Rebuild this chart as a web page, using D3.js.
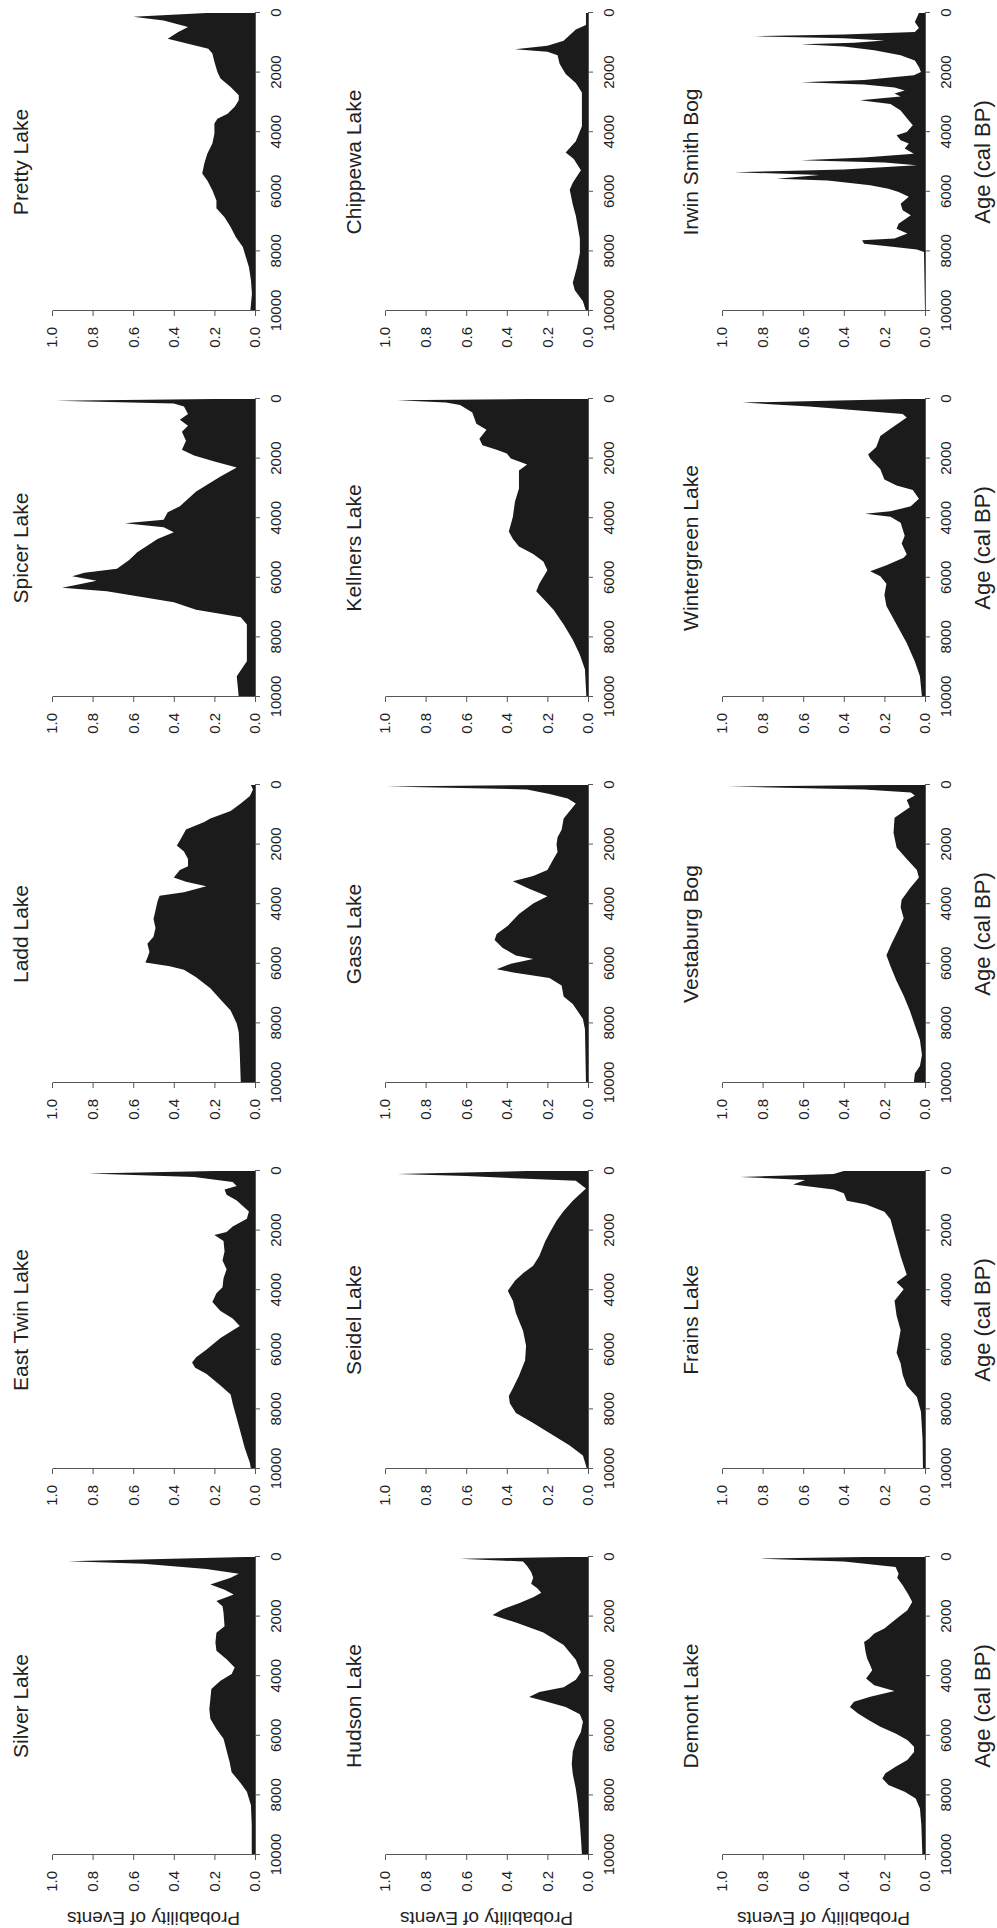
<!DOCTYPE html>
<html>
<head>
<meta charset="utf-8">
<script src="https://cdn.jsdelivr.net/npm/d3@7"></script>
<style>
  body { margin: 0; background: #fff; }
  svg { display: block; font-family: "Liberation Sans", Arial, sans-serif; }
</style>
</head>
<body>
<div id="chart"></div>
<script>
// panel grid of the landscape figure (rows top to bottom, columns left to right)
var lakeRows = [
  ["Silver Lake", "East Twin Lake", "Ladd Lake", "Spicer Lake", "Pretty Lake"],
  ["Hudson Lake", "Seidel Lake", "Gass Lake", "Kellners Lake", "Chippewa Lake"],
  ["Demont Lake", "Frains Lake", "Vestaburg Bog", "Wintergreen Lake", "Irwin Smith Bog"]
];

var ageTicks = [0, 2000, 4000, 6000, 8000, 10000];
var probTicks = [0, 0.2, 0.4, 0.6, 0.8, 1.0];

// [age cal BP, probability of events]
var silverLake = [[0,0.05],[145,0.92],[230,0.55],[400,0.24],[560,0.08],[700,0.12],[925,0.22],[1100,0.15],[1260,0.105],[1480,0.19],[1650,0.16],[1870,0.155],[2320,0.15],[2540,0.19],[2870,0.195],[3150,0.19],[3430,0.14],[3710,0.1],[3930,0.115],[4150,0.17],[4430,0.215],[4770,0.22],[5100,0.225],[5430,0.22],[5770,0.19],[6100,0.155],[6490,0.14],[6880,0.125],[7220,0.115],[7550,0.075],[7880,0.04],[8330,0.02],[9000,0.016],[10000,0.016]];
var eastTwinLake = [[0,0.2],[80,0.82],[200,0.3],[370,0.11],[500,0.09],[620,0.15],[800,0.14],[990,0.09],[1360,0.03],[1600,0.04],[1860,0.11],[2050,0.14],[2150,0.2],[2350,0.155],[2700,0.15],[3000,0.16],[3300,0.14],[3600,0.155],[3900,0.16],[4100,0.19],[4400,0.21],[4700,0.17],[4950,0.11],[5200,0.075],[5600,0.17],[6000,0.24],[6250,0.29],[6430,0.31],[6600,0.295],[6800,0.24],[7200,0.17],[7500,0.12],[7800,0.11],[8300,0.09],[8800,0.07],[9300,0.05],[9800,0.025],[10000,0.02]];
var laddLake = [[0,0.02],[150,0.01],[370,0.025],[620,0.07],[870,0.12],[1120,0.22],[1240,0.25],[1490,0.34],[1860,0.37],[2030,0.385],[2230,0.35],[2480,0.33],[2730,0.33],[2850,0.37],[3100,0.4],[3250,0.34],[3400,0.24],[3600,0.35],[3720,0.47],[3900,0.48],[4200,0.49],[4500,0.5],[4800,0.49],[5090,0.5],[5330,0.53],[5600,0.52],[5800,0.53],[5960,0.54],[6080,0.42],[6200,0.35],[6450,0.29],[6820,0.22],[7200,0.17],[7570,0.12],[8000,0.09],[8300,0.08],[9000,0.075],[10000,0.07]];
var spicerLake = [[0,0.2],[60,0.98],[150,0.4],[250,0.35],[500,0.33],[700,0.37],[900,0.33],[1100,0.36],[1400,0.34],[1700,0.36],[1900,0.3],[2100,0.2],[2300,0.09],[2600,0.17],[3100,0.29],[3600,0.37],[3800,0.43],[4050,0.45],[4170,0.64],[4300,0.45],[4470,0.4],[4700,0.48],[5140,0.58],[5400,0.62],[5700,0.68],[5830,0.84],[5950,0.9],[6100,0.78],[6330,0.95],[6450,0.73],[6820,0.4],[7070,0.29],[7320,0.07],[7570,0.04],[8800,0.04],[9000,0.06],[9300,0.09],[10000,0.08]];
var prettyLake = [[0,0.24],[130,0.6],[250,0.45],[470,0.33],[650,0.38],[860,0.43],[1030,0.33],[1200,0.23],[1360,0.21],[1640,0.2],[1980,0.185],[2200,0.17],[2480,0.12],[2760,0.08],[2930,0.08],[3150,0.1],[3380,0.135],[3550,0.185],[3710,0.2],[4050,0.2],[4380,0.21],[4720,0.235],[5060,0.25],[5390,0.26],[5620,0.235],[5950,0.21],[6290,0.19],[6550,0.19],[6850,0.15],[7180,0.12],[7520,0.095],[7850,0.06],[8190,0.045],[8520,0.03],[8970,0.02],[9420,0.015],[10000,0.023]];
var hudsonLake = [[0,0.1],[60,0.63],[150,0.32],[300,0.3],[500,0.28],[700,0.27],[900,0.28],[1050,0.25],[1200,0.23],[1350,0.27],[1550,0.34],[1750,0.42],[1950,0.47],[2200,0.355],[2530,0.22],[2950,0.12],[3450,0.06],[3870,0.035],[4120,0.06],[4370,0.12],[4530,0.24],[4700,0.29],[4820,0.22],[5030,0.11],[5280,0.04],[5530,0.025],[5870,0.035],[6200,0.06],[6530,0.075],[6950,0.08],[7280,0.075],[7780,0.06],[8280,0.05],[8950,0.04],[9620,0.033],[10000,0.03]];
var seidelLake = [[0,0.3],[100,0.94],[170,0.6],[330,0.06],[590,0.01],[1000,0.075],[1340,0.12],[1670,0.155],[2090,0.19],[2350,0.21],[2850,0.24],[3180,0.27],[3430,0.32],[3680,0.36],[4020,0.395],[4350,0.37],[4770,0.355],[5360,0.32],[5860,0.305],[6360,0.31],[6870,0.34],[7290,0.37],[7550,0.39],[7790,0.385],[8120,0.355],[8460,0.27],[8790,0.19],[9210,0.09],[9550,0.025],[10000,0.005]];
var gassLake = [[0,0.2],[50,0.99],[150,0.3],[300,0.19],[450,0.1],[620,0.06],[870,0.09],[1120,0.12],[1500,0.13],[1750,0.15],[2000,0.155],[2250,0.15],[2480,0.17],[2850,0.2],[3050,0.27],[3230,0.37],[3480,0.29],[3730,0.2],[3980,0.27],[4330,0.34],[4720,0.395],[5000,0.45],[5200,0.46],[5470,0.42],[5720,0.355],[5840,0.27],[6000,0.38],[6180,0.45],[6300,0.36],[6480,0.19],[6730,0.13],[7100,0.12],[7350,0.075],[7850,0.025],[8200,0.015],[10000,0.01]];
var kellnersLake = [[0,0.3],[40,0.94],[120,0.7],[200,0.63],[450,0.57],[830,0.55],[1030,0.5],[1330,0.535],[1550,0.52],[1700,0.45],[1830,0.4],[2000,0.38],[2200,0.3],[2400,0.34],[3000,0.34],[3450,0.36],[3950,0.37],[4200,0.38],[4450,0.39],[4700,0.37],[4950,0.34],[5200,0.27],[5450,0.22],[5750,0.2],[6200,0.24],[6450,0.255],[6700,0.22],[7070,0.17],[7570,0.12],[8080,0.075],[8580,0.04],[9080,0.015],[10000,0.008]];
var chippewaLake = [[0,0.01],[400,0.01],[550,0.06],[930,0.12],[1100,0.2],[1220,0.36],[1300,0.2],[1420,0.15],[1700,0.14],[2050,0.11],[2350,0.06],[2670,0.03],[3800,0.03],[4300,0.06],[4680,0.11],[4900,0.07],[5280,0.035],[5700,0.075],[5930,0.09],[6430,0.075],[6800,0.06],[7570,0.04],[8050,0.04],[8550,0.055],[9050,0.075],[9300,0.065],[9670,0.025],[10000,0.01]];
var demontLake = [[0,0.3],[55,0.81],[150,0.4],[335,0.145],[560,0.13],[700,0.137],[950,0.11],[1285,0.08],[1510,0.063],[1790,0.087],[2010,0.13],[2230,0.17],[2400,0.2],[2570,0.25],[2740,0.276],[2850,0.3],[3180,0.293],[3410,0.285],[3630,0.27],[3800,0.26],[4080,0.29],[4300,0.25],[4500,0.15],[4690,0.27],[4860,0.35],[5030,0.37],[5250,0.33],[5475,0.276],[5700,0.22],[5920,0.145],[6145,0.087],[6370,0.054],[6540,0.054],[6815,0.087],[7040,0.145],[7260,0.195],[7430,0.21],[7650,0.18],[7880,0.1],[8100,0.046],[8440,0.025],[8990,0.018],[10000,0.013]];
var frainsLake = [[0,0.4],[100,0.45],[200,0.91],[300,0.59],[450,0.65],[620,0.45],[750,0.4],[1000,0.385],[1120,0.29],[1370,0.2],[1620,0.17],[2000,0.155],[2360,0.14],[2860,0.12],[3480,0.09],[3730,0.14],[3970,0.105],[4350,0.15],[4850,0.14],[5340,0.12],[5720,0.13],[6100,0.14],[6460,0.12],[6840,0.11],[7210,0.09],[7580,0.04],[8080,0.02],[9000,0.012],[10000,0.01]];
var vestaburgBog = [[0,0.2],[50,0.97],[150,0.3],[250,0.07],[350,0.05],[500,0.09],[750,0.075],[1100,0.15],[1600,0.155],[2100,0.14],[2480,0.09],[2850,0.04],[3100,0.03],[3470,0.075],[3850,0.115],[4100,0.12],[4470,0.105],[4840,0.13],[5330,0.165],[5710,0.19],[6080,0.17],[6580,0.14],[7070,0.105],[7570,0.075],[8060,0.05],[8560,0.025],[9060,0.015],[9430,0.025],[9680,0.05],[10000,0.055]];
var wintergreenLake = [[0,0.1],[120,0.9],[250,0.57],[500,0.11],[620,0.09],[1000,0.17],[1240,0.22],[1610,0.24],[1860,0.28],[2000,0.27],[2360,0.22],[2700,0.2],[2900,0.14],[3050,0.06],[3350,0.03],[3600,0.07],[3770,0.17],[3850,0.295],[3950,0.17],[4150,0.12],[4590,0.1],[4850,0.115],[5210,0.09],[5330,0.105],[5580,0.19],[5780,0.27],[5950,0.22],[6200,0.19],[6580,0.2],[6950,0.19],[7570,0.14],[8190,0.09],[8810,0.05],[9300,0.025],[10000,0.015]];
var irwinSmithBog = [[0,0.03],[300,0.05],[500,0.03],[640,0.05],[720,0.4],[780,0.84],[850,0.4],[920,0.2],[1000,0.35],[1050,0.61],[1120,0.4],[1250,0.25],[1420,0.12],[1590,0.05],[1810,0.03],[1980,0.02],[2090,0.055],[2250,0.3],[2320,0.61],[2400,0.3],[2500,0.15],[2600,0.1],[2700,0.15],[2800,0.12],[2930,0.32],[3050,0.17],[3270,0.12],[3550,0.087],[3770,0.06],[3990,0.09],[4100,0.14],[4270,0.12],[4380,0.08],[4550,0.1],[4720,0.055],[4850,0.3],[4940,0.61],[5020,0.2],[5110,0.04],[5250,0.4],[5340,0.94],[5440,0.52],[5560,0.73],[5620,0.48],[5700,0.38],[5780,0.27],[5900,0.18],[6010,0.13],[6170,0.08],[6400,0.12],[6620,0.11],[6790,0.07],[7070,0.13],[7240,0.14],[7400,0.087],[7570,0.15],[7630,0.31],[7740,0.3],[7850,0.15],[7940,0.04],[8020,0.005],[10000,0]];

var lakeData = {
  "Silver Lake": silverLake, "East Twin Lake": eastTwinLake, "Ladd Lake": laddLake,
  "Spicer Lake": spicerLake, "Pretty Lake": prettyLake,
  "Hudson Lake": hudsonLake, "Seidel Lake": seidelLake, "Gass Lake": gassLake,
  "Kellners Lake": kellnersLake, "Chippewa Lake": chippewaLake,
  "Demont Lake": demontLake, "Frains Lake": frainsLake, "Vestaburg Bog": vestaburgBog,
  "Wintergreen Lake": wintergreenLake, "Irwin Smith Bog": irwinSmithBog
};

var W = 997, H = 1928;
var left = 73, colStep = 386, plotW = 298, plotH = 203;
var rowBase = [255, 588, 925];

var svg = d3.select("#chart")
  .append("svg")
    .attr("width", W)
    .attr("height", H);

// figure is drawn landscape, then turned a quarter turn like the scanned page
var fig = svg.append("g")
    .attr("transform", "translate(0," + H + ") rotate(-90)");

lakeRows.forEach(function(row, i) {
  row.forEach(function(name, j) {
    var x = d3.scaleLinear()
      .domain([10000, 0])
      .range([left + colStep * j, left + colStep * j + plotW]);
    var y = d3.scaleLinear()
      .domain([0, 1])
      .range([rowBase[i], rowBase[i] - plotH]);

    var area = d3.area()
      .x(function(d) { return x(d[0]); })
      .y0(y(0))
      .y1(function(d) { return y(d[1]); });

    fig.append("path")
      .datum(lakeData[name])
      .attr("d", area)
      .attr("fill", "#1b1b1b");

    // X axis
    var gx = fig.append("g")
      .attr("transform", "translate(0," + rowBase[i] + ")")
      .call(d3.axisBottom(x).tickValues(ageTicks).tickSize(5).tickSizeOuter(0)
        .tickPadding(10).tickFormat(d3.format("d")));

    // Y axis
    var gy = fig.append("g")
      .attr("transform", "translate(" + x(10000) + ",0)")
      .call(d3.axisLeft(y).tickValues(probTicks).tickSize(5).tickSizeOuter(0)
        .tickPadding(11).tickFormat(d3.format(".1f")));

    [gx, gy].forEach(function(g) {
      g.attr("font-family", null).attr("font-size", 15);
      g.selectAll("path, line").attr("stroke", "#555");
      g.selectAll("text").attr("fill", "#222");
    });

    fig.append("text")
      .attr("x", x(5000))
      .attr("y", rowBase[i] - 227)
      .attr("text-anchor", "middle")
      .attr("font-size", 21)
      .attr("fill", "#222")
      .text(name);

    if (i === 2) {
      fig.append("text")
        .attr("x", x(5000))
        .attr("y", rowBase[i] + 65)
        .attr("text-anchor", "middle")
        .attr("font-size", 22)
        .attr("fill", "#222")
        .text("Age (cal BP)");
    }
    if (j === 0) {
      fig.append("text")
        .attr("transform", "translate(16," + (rowBase[i] - plotH / 2) + ") rotate(-90)")
        .attr("text-anchor", "middle")
        .attr("font-size", 19)
        .attr("fill", "#222")
        .text("Probability of Events");
    }
  });
});
</script>
</body>
</html>
